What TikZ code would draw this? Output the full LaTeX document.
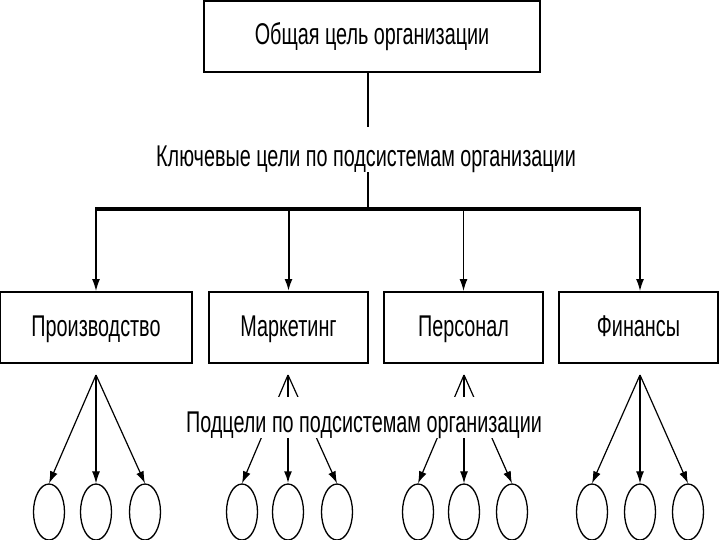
\documentclass[tikz,border=0pt]{standalone}
\usepackage{fontspec}
\newfontfamily\narrowfont[FakeStretch=0.66]{Liberation Sans}
\usetikzlibrary{arrows.meta,shapes.geometric}
\begin{document}
\begin{tikzpicture}[x=1pt,y=-1pt,
  txt/.style={font=\narrowfont\fontsize{30}{31}\selectfont,inner sep=0pt},
  box/.style={txt,draw,line width=2pt,minimum width=#1,minimum height=71pt,text height=21pt,text depth=4pt},
  cover/.style={txt,fill=white,anchor=base},
  ell/.style={draw,ellipse,line width=1.3pt,minimum width=31pt,minimum height=56pt,inner sep=0pt},
  arr/.style={line width=1.2pt,-{Latex[length=12pt,width=8pt]}},
  tharr/.style={arr,line width=2pt},
  bar/.style={line width=3.2pt},
  trunk/.style={line width=2.4pt}]
\useasboundingbox (0,0) rectangle (720,540);
\clip (0,0) rectangle (720,540);
\fill[white] (0,0) rectangle (720,540);
% top box
\node[box=336pt] (top) at (372,36.5) {Общая цель организации};
% second level boxes
\node[box=192pt] (b1) at (96,327.5) {Производство};
\node[box=159pt] (b2) at (288.5,327.5) {Маркетинг};
\node[box=159pt] (b3) at (463.5,327.5) {Персонал};
\node[box=159pt] (b4) at (638.5,327.5) {Финансы};
% hub of the bar
\coordinate (hub) at (368,209);
\coordinate (bl) at (96,209);
\coordinate (br) at (640,209);
\draw[trunk] (top.south -| hub) -- (hub);
\draw[bar] ([xshift=-1pt]bl) -- ([xshift=1pt]br);
\draw[arr] (bl) -- (b1.north);
\draw[tharr] (b2.north |- hub) -- (b2.north);
\draw[arr] (b3.north |- hub) -- (b3.north);
\draw[arr] (br) -- (b4.north -| br);
% key goals label over the trunk
\node[cover,text height=40pt,text depth=5pt] (key) at (366,167) {Ключевые цели по подсистемам организации};
% apexes
\coordinate (a1) at (96,375);
\coordinate (a2) at (288,375);
\coordinate (a3) at (464,375);
\coordinate (a4) at (640,375);
% ellipses
\node[ell] (e11) at (49,512) {};
\node[ell] (e12) at (96,512) {};
\node[ell] (e13) at (145,512) {};
\node[ell] (e21) at (242,512) {};
\node[ell] (e22) at (288,512) {};
\node[ell] (e23) at (337,512) {};
\node[ell] (e31) at (418,512) {};
\node[ell] (e32) at (464,512) {};
\node[ell] (e33) at (512,512) {};
\node[ell] (e41) at (592,512) {};
\node[ell] (e42) at (640,512) {};
\node[ell] (e43) at (688,512) {};
% sub arrows
\draw[arr] (a1) -- (e11.north);
\draw[arr] (a1) -- (e12.north);
\draw[arr] (a1) -- (e13.north);
\draw[arr] (a2) -- (e21.north);
\draw[tharr] (a2) -- (e22.north);
\draw[arr] (a2) -- (e23.north);
\draw[arr] (a3) -- (e31.north);
\draw[arr] (a3) -- (e32.north);
\draw[arr] (a3) -- (e33.north);
\draw[arr] (a4) -- (e41.north);
\draw[arr] (a4) -- (e42.north);
\draw[arr] (a4) -- (e43.north);
% subgoals label
\node[cover,text height=35pt,text depth=6pt] (sub) at (364,432) {Подцели по подсистемам организации};
\end{tikzpicture}
\end{document}
